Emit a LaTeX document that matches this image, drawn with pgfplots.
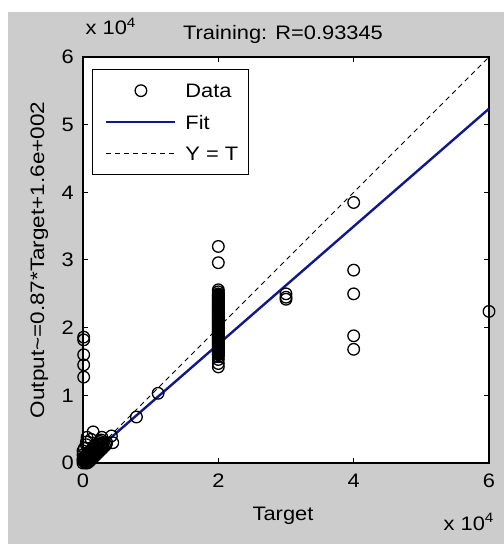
\documentclass[border=0pt]{standalone}
\usepackage{fontspec}
\setmainfont{Liberation Sans}[FakeStretch=1.12]
\usepackage{pgfplots}
\pgfplotsset{compat=1.18}
\definecolor{figgray}{RGB}{204,204,204}
\definecolor{fitblue}{RGB}{16,24,140}
\pgfplotstableread{
x y
0.01 1.86
0.01 1.82
0.01 1.60
0.01 1.45
0.01 1.27
0.00 0.00
0.02 0.02
0.04 0.04
0.06 0.06
0.08 0.08
0.10 0.10
0.12 0.12
0.14 0.14
0.16 0.16
0.18 0.18
0.20 0.20
0.22 0.22
0.24 0.24
0.26 0.26
0.28 0.28
0.30 0.30
0.04 0.00
0.06 0.00
0.08 0.01
0.10 0.03
0.12 0.05
0.14 0.07
0.16 0.09
0.18 0.11
0.20 0.13
0.22 0.15
0.24 0.17
0.26 0.19
0.28 0.21
0.30 0.23
0.32 0.25
0.34 0.27
0.00 0.04
0.00 0.06
0.01 0.08
0.03 0.10
0.05 0.12
0.07 0.14
0.09 0.16
0.11 0.18
0.13 0.20
0.15 0.22
0.17 0.24
0.19 0.26
0.21 0.28
0.23 0.30
0.25 0.32
0.27 0.34
0.00 0.12
0.00 0.18
0.02 0.22
0.05 0.27
0.06 0.38
0.15 0.46
0.28 0.38
0.12 0.35
0.05 0.31
0.35 0.30
0.42 0.40
0.44 0.30
0.79 0.68
1.11 1.03
2.00 3.20
2.00 2.96
2.00 2.56
2.00 2.53
2.00 2.50
2.00 2.488
2.00 2.476
2.00 2.464
2.00 2.452
2.00 2.44
2.00 2.428
2.00 2.416
2.00 2.404
2.00 2.392
2.00 2.38
2.00 2.368
2.00 2.356
2.00 2.344
2.00 2.332
2.00 2.32
2.00 2.308
2.00 2.296
2.00 2.284
2.00 2.272
2.00 2.26
2.00 2.248
2.00 2.236
2.00 2.224
2.00 2.212
2.00 2.20
2.00 2.188
2.00 2.176
2.00 2.164
2.00 2.152
2.00 2.14
2.00 2.128
2.00 2.116
2.00 2.104
2.00 2.092
2.00 2.08
2.00 2.068
2.00 2.056
2.00 2.044
2.00 2.032
2.00 2.02
2.00 2.008
2.00 1.996
2.00 1.984
2.00 1.972
2.00 1.96
2.00 1.948
2.00 1.936
2.00 1.924
2.00 1.912
2.00 1.90
2.00 1.888
2.00 1.876
2.00 1.864
2.00 1.852
2.00 1.84
2.00 1.828
2.00 1.816
2.00 1.804
2.00 1.792
2.00 1.78
2.00 1.768
2.00 1.756
2.00 1.744
2.00 1.732
2.00 1.72
2.00 1.708
2.00 1.696
2.00 1.684
2.00 1.672
2.00 1.66
2.00 1.648
2.00 1.636
2.00 1.624
2.00 1.612
2.00 1.60
2.00 1.57
2.00 1.53
2.00 1.47
2.00 1.42
3.00 2.50
3.00 2.45
3.00 2.42
4.00 3.85
4.00 2.85
4.00 2.50
4.00 1.88
4.00 1.68
6.00 2.24
}\datatable
\begin{document}
\fontsize{19.5bp}{23bp}\selectfont
\begin{tikzpicture}
\useasboundingbox (0,0) rectangle (504bp,544bp);
\fill[white] (0,0) rectangle (504bp,544bp);
\fill[figgray] (8bp,0) rectangle (504bp,532bp);
\begin{axis}[
  at={(83bp,81bp)}, anchor=south west,
  scale only axis, width=406bp, height=406bp,
  xmin=0, xmax=6, ymin=0, ymax=6,
  xtick={0,2,4,6}, ytick={0,1,...,6},
  tick align=inside, major tick length=5bp,
  axis line style={line width=1.2bp},
  every tick/.style={black, line width=1bp},
  axis background/.style={fill=white},
  clip=false,
  /pgf/number format/assume math mode=true,
  xticklabel style={anchor=north, inner sep=0pt, yshift=-11bp},
  yticklabel style={anchor=east, inner sep=0pt, xshift=-9bp},
  legend style={at={(0.022,0.970)}, anchor=north west, draw=black, line width=1bp,
    fill=white, inner xsep=0pt, inner ysep=5.25bp, row sep=0pt, column sep=0pt,
    nodes={inner sep=0pt, minimum height=31.5bp, text depth=0pt},
    cells={anchor=west}},
  legend image code/.code={\path[draw=none] (-14bp,0bp) (79bp,0bp); \draw[#1] (0bp,0bp) -- (69bp,0bp);},
]
\addplot[only marks, mark=o, mark size=5.8bp, mark options={line width=1.3bp, black},
  legend image code/.code={\path[draw=none] (-14bp,0bp) (79bp,0bp); \draw[##1] plot coordinates {(34.5bp,0bp)};}]
  table[x=x, y=y] {\datatable};
\addlegendentry{Data}
\addplot[fitblue, line width=2.4bp] coordinates {(0,0.016) (6,5.236)};
\addlegendentry{Fit}
\addplot[black, line width=0.8bp, dash pattern=on 5bp off 4bp] coordinates {(0,0) (6,6)};
\addlegendentry{Y = T\kern10bp\null}
\end{axis}
\node[anchor=base] at (283bp,504bp) {Training: R=0.93345};
\node[anchor=base west] at (79bp,509bp) {x 10\textsuperscript{4}};
\node[anchor=base west] at (437bp,14bp) {x 10\textsuperscript{4}};
\node[anchor=base] at (283bp,24bp) {Target};
\node[anchor=base, rotate=90] at (44bp,284bp) {\scalebox{1.03}[1]{Output\textasciitilde=0.87*Target+1.6e+002}};
\end{tikzpicture}
\end{document}
